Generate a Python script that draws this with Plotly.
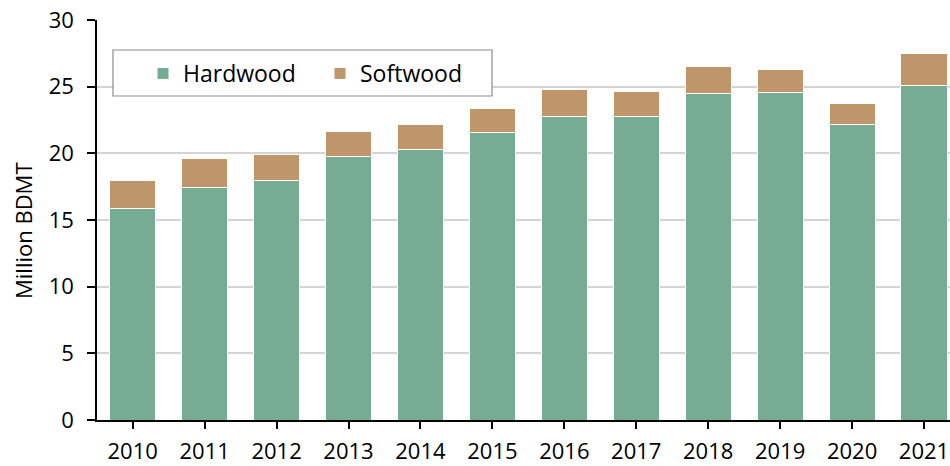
import plotly.graph_objects as go

years = ["2010", "2011", "2012", "2013", "2014", "2015", "2016", "2017", "2018", "2019", "2020", "2021"]
hardwood = [15.9, 17.45, 17.98, 19.75, 20.28, 21.58, 22.78, 22.75, 24.5, 24.6, 22.2, 25.08]
softwood = [2.1, 2.18, 1.9, 1.88, 1.85, 1.77, 2.0, 1.88, 2.03, 1.7, 1.55, 2.42]
y_ticks = [0, 5, 10, 15, 20, 25, 30]

W, H = 950, 466
ML, MR, MT, MB = 97, 0, 20, 46
PW = W - ML - MR
PH = H - MT - MB


def px_x(p):
    return (p - ML) / PW


def px_y(p):
    return (H - MB - p) / PH


FONT = "Open Sans"

fig = go.Figure()
fig.add_trace(go.Bar(x=years, y=hardwood, name="Hardwood",
                     marker=dict(color="#76AB94", line=dict(color="white", width=1))))
fig.add_trace(go.Bar(x=years, y=softwood, name="Softwood",
                     marker=dict(color="#BF966A", line=dict(color="white", width=1))))

spacing = (924 - 132.7) / 11
x_lo = -(132.7 - ML) / spacing
x_hi = (W - 132.7) / spacing

fig.update_layout(
    width=W, height=H,
    margin=dict(l=ML, r=MR, t=MT, b=MB, autoexpand=False),
    barmode="stack",
    bargap=0.36,
    plot_bgcolor="white",
    paper_bgcolor="white",
    font=dict(family=FONT, size=22, color="black"),
    showlegend=True,
    legend=dict(
        orientation="h",
        x=px_x(143), xanchor="left",
        y=px_y(73.5), yanchor="middle",
        bgcolor="rgba(0,0,0,0)",
        borderwidth=0,
        font=dict(family=FONT, size=23, color="black"),
        itemwidth=30,
        entrywidth=132,
        traceorder="normal",
    ),
    xaxis=dict(
        type="category",
        range=[x_lo, x_hi],
        showline=True, linecolor="black", linewidth=1.5,
        ticks="outside", ticklen=7, tickwidth=1.5, tickcolor="black",
        showgrid=False,
        tickfont=dict(family=FONT, size=22, color="black"),
        ticklabelstandoff=4,
        automargin=False,
        fixedrange=True,
    ),
    yaxis=dict(
        range=[0, 30],
        tickvals=y_ticks,
        showline=True, linecolor="black", linewidth=1.5,
        ticks="outside", ticklen=8, tickwidth=1.5, tickcolor="black",
        showgrid=True, gridcolor="#d4d4d4", gridwidth=1.5,
        zeroline=False,
        tickfont=dict(family=FONT, size=22, color="black"),
        ticklabelstandoff=9,
        automargin=False,
        fixedrange=True,
    ),
    shapes=[dict(
        type="rect", xref="paper", yref="paper",
        x0=px_x(113), x1=px_x(492), y0=px_y(96), y1=px_y(50),
        line=dict(color="#8c8c8c", width=1.2),
        fillcolor="white", layer="above",
    )],
    annotations=[dict(
        text="Million BDMT", textangle=-90,
        xref="paper", yref="paper",
        x=px_x(23), y=px_y(231),
        xanchor="center", yanchor="middle",
        showarrow=False,
        font=dict(family=FONT, size=22, color="black"),
    )],
)

fig.write_html("out.html")
